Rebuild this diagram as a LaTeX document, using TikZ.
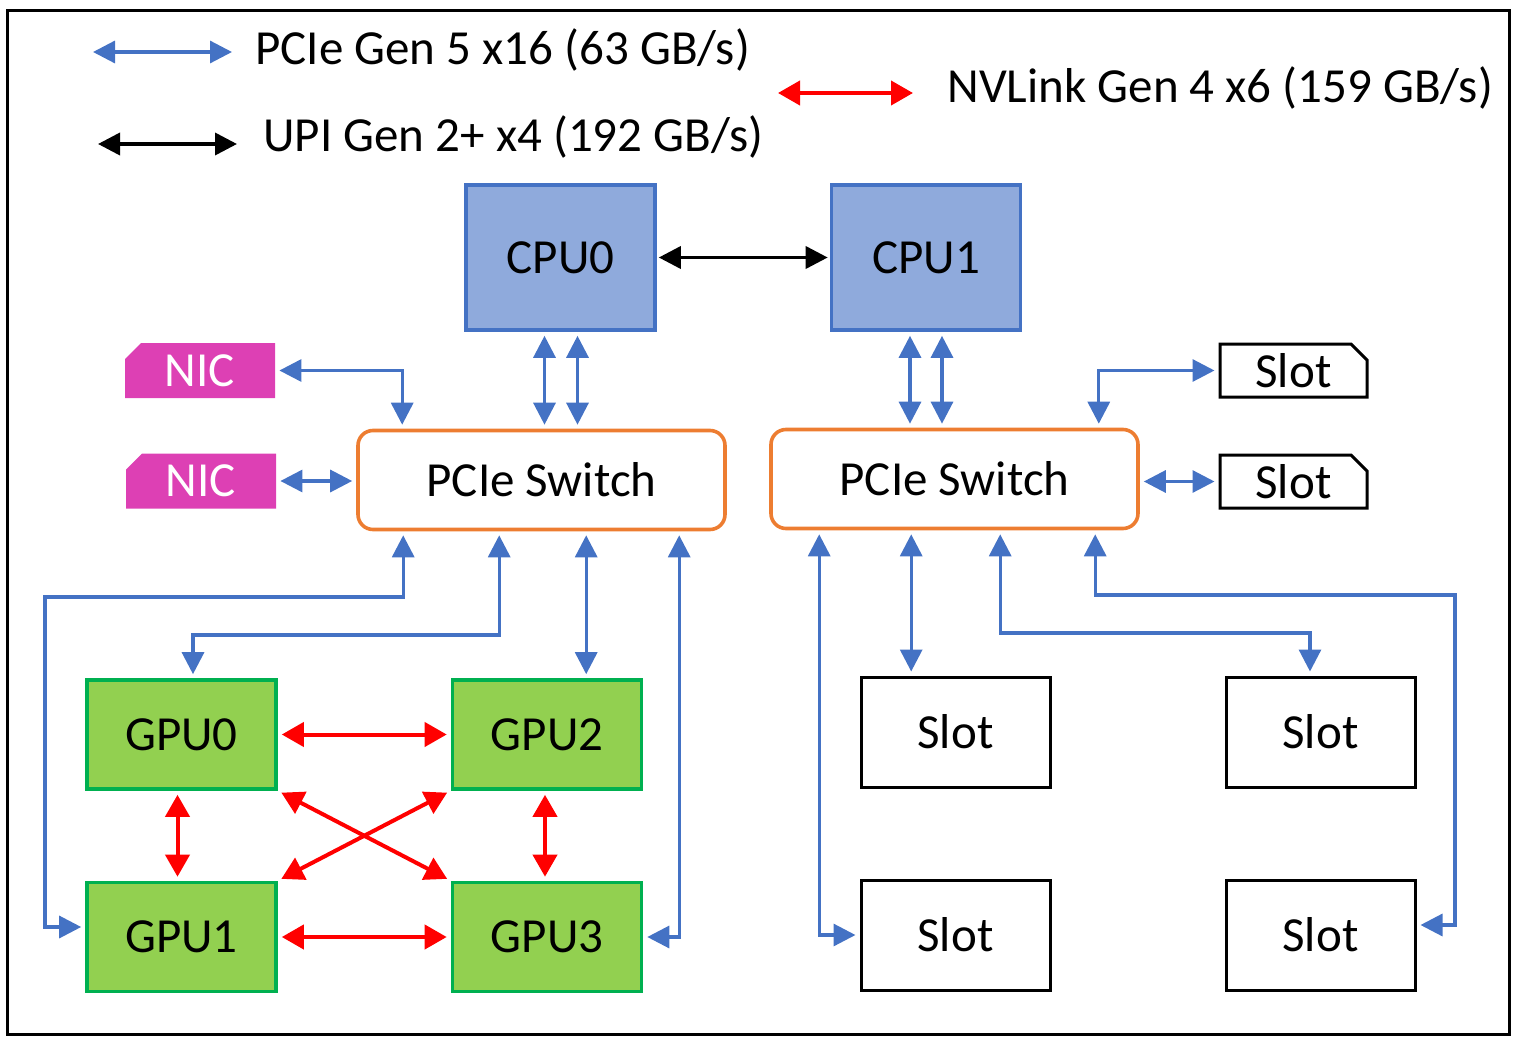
\documentclass[tikz,border=0pt]{standalone}
\usepackage{fontspec}
\setmainfont{Carlito}
\usetikzlibrary{
    arrows.meta,
    positioning,
    calc,
    shapes.misc
}
\definecolor{LinkBlue}{RGB}{68,114,196}
\definecolor{CpuFill}{RGB}{143,170,220}
\definecolor{SwOrange}{RGB}{237,125,49}
\definecolor{NicPink}{RGB}{221,64,180}
\definecolor{GpuFill}{RGB}{146,208,80}
\definecolor{GpuEdge}{RGB}{0,176,80}
\tikzset{
  cpubox/.style  = {draw=LinkBlue, fill=CpuFill, line width=1.8pt,
                    minimum width=94.5pt, minimum height=72.5pt},
  switch/.style  = {draw=SwOrange, rounded corners=7.5pt, line width=1.8pt,
                    minimum width=183.5pt, minimum height=49.5pt},
  nic/.style     = {fill=NicPink, text=white, chamfered rectangle,
                    chamfered rectangle corners=north west,
                    chamfered rectangle xsep=4pt, chamfered rectangle ysep=4pt,
                    minimum width=75pt, minimum height=27.5pt, inner sep=0pt},
  smallslot/.style = {draw, line width=1.5pt, chamfered rectangle,
                    chamfered rectangle corners=north east,
                    chamfered rectangle xsep=4pt, chamfered rectangle ysep=4pt,
                    minimum width=73.5pt, minimum height=26.5pt, inner sep=0pt},
  gpubox/.style  = {draw=GpuEdge, fill=GpuFill, line width=1.8pt,
                    minimum width=94.5pt, minimum height=54.5pt},
  slotbox/.style = {draw, line width=1.5pt,
                    minimum width=94.5pt, minimum height=55pt},
  legtext/.style = {anchor=west, inner sep=0pt},
  pcie/.style    = {{Triangle[length=11pt,width=11pt]}-{Triangle[length=11pt,width=11pt]},
                    LinkBlue, line width=1.6pt, shorten <=2pt, shorten >=2pt},
  nvl/.style     = {{Triangle[length=11pt,width=12pt]}-{Triangle[length=11pt,width=12pt]},
                    red, line width=2pt, shorten <=2pt, shorten >=2pt},
  upi/.style     = {{Triangle[length=11pt,width=11pt]}-{Triangle[length=11pt,width=11pt]},
                    black, line width=1.8pt, shorten <=1pt, shorten >=1pt}
}

\begin{document}
\begin{tikzpicture}[x=0.5pt, y=-0.5pt, every node/.style={font=\fontsize{24.5}{28}\selectfont}]
\useasboundingbox (0,0) rectangle (1517,1044);
\draw[line width=1.5pt] (7,10) rectangle (1509,1034);

% legend
\coordinate (lgA1) at (93,52);   \coordinate (lgA2) at (232,52);
\coordinate (lgB1) at (98,144);  \coordinate (lgB2) at (237,144);
\coordinate (lgC1) at (778,93);  \coordinate (lgC2) at (913,93);
\draw[pcie, shorten <=0pt, shorten >=0pt] (lgA1) -- (lgA2);
\draw[upi, shorten <=0pt, shorten >=0pt] (lgB1) -- (lgB2);
\draw[nvl, shorten <=0pt, shorten >=0pt] (lgC1) -- (lgC2);
\node[legtext] (lgAt) at (255,50) {PCIe Gen 5 x16 (63 GB/s)};
\node[legtext] (lgBt) at (263,137) {UPI Gen 2+ x4 (192 GB/s)};
\node[legtext] (lgCt) at (947,88) {NVLink Gen 4 x6 (159 GB/s)};

% cpus and switches
\node[cpubox] (cpu0) at (560.5,257.5) {CPU0};
\node[cpubox] (cpu1) at (926,257.5) {CPU1};
\node[switch] (lsw) at (541.5,480) {PCIe Switch};
\node[switch] (rsw) at (954.5,479) {PCIe Switch};

\node[nic] (nic1) at (200,370.5) {NIC};
\node[nic] (nic2) at (201,481) {NIC};
\node[smallslot] (slota) at (1293.5,370.5) {Slot};
\node[smallslot] (slotb) at (1293.5,481.5) {Slot};

% gpus and slots
\node[gpubox] (gpu0) at (181.5,734.5) {GPU0};
\node[gpubox] (gpu2) at (547,734.5) {GPU2};
\node[gpubox] (gpu1) at (181.5,937) {GPU1};
\node[gpubox] (gpu3) at (547,937) {GPU3};
\node[slotbox] (slot1) at (955.5,732) {Slot};
\node[slotbox] (slot2) at (1320.5,732) {Slot};
\node[slotbox] (slot3) at (955.5,935) {Slot};
\node[slotbox] (slot4) at (1320.5,935) {Slot};

% bends
\coordinate (bendA) at (45,597);
\coordinate (bendB) at (193,635);
\coordinate (bendC) at (1310,633);
\coordinate (bendD) at (1455,595);

\draw[upi] (cpu0.east) -- (cpu1.west);
\draw[pcie] ([xshift=-8pt]cpu0.south) -- ([xshift=-8pt]cpu0.south |- lsw.north);
\draw[pcie] ([xshift=8.5pt]cpu0.south) -- ([xshift=8.5pt]cpu0.south |- lsw.north);
\draw[pcie] ([xshift=-8pt]cpu1.south) -- ([xshift=-8pt]cpu1.south |- rsw.north);
\draw[pcie] ([xshift=8pt]cpu1.south) -- ([xshift=8pt]cpu1.south |- rsw.north);

\draw[pcie] (nic1.east) -| ([xshift=23pt]lsw.north west);
\draw[pcie] (nic2.east) -- (nic2.east -| lsw.west);
\draw[pcie] (slota.west) -| ([xshift=-20.5pt]rsw.north east);
\draw[pcie] (slotb.west -| rsw.east) -- (slotb.west);

\draw[pcie] ([xshift=23.5pt]lsw.south west) |- (bendA) |- ([yshift=5pt]gpu1.west);
\draw[pcie] ([xshift=71.5pt]lsw.south west) |- (bendB) -- (bendB |- gpu0.north);
\draw[pcie] ([xshift=115pt]lsw.south west) -- ([xshift=115pt]lsw.south west |- gpu2.north);
\draw[pcie] ([xshift=161.5pt]lsw.south west) |- (gpu3.east);

\draw[pcie] ([xshift=25pt]rsw.south west) |- (slot3.west);
\draw[pcie] ([xshift=71pt]rsw.south west) -- ([xshift=71pt]rsw.south west |- slot1.north);
\draw[pcie] ([xshift=115.5pt]rsw.south west) |- (bendC) -- (bendC |- slot2.north);
\draw[pcie] ([xshift=163pt]rsw.south west) |- (bendD) |- ([yshift=5pt]slot4.east);

\draw[nvl] (gpu0.east) -- (gpu2.west);
\draw[nvl] (gpu1.east) -- (gpu3.west);
\draw[nvl] ([xshift=-2pt]gpu0.south) -- ([xshift=-2pt]gpu1.north);
\draw[nvl] ([xshift=-1pt]gpu2.south) -- ([xshift=-1pt]gpu3.north);
\draw[nvl] (gpu0.south east) -- (gpu3.north west);
\draw[nvl] (gpu2.south west) -- (gpu1.north east);
\end{tikzpicture}
\end{document}
